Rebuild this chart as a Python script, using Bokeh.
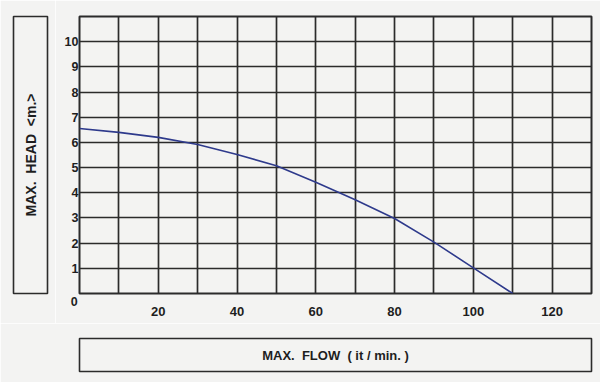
import math
from bokeh.plotting import figure
from bokeh.layouts import row, column
from bokeh.models import FixedTicker, Range1d, ColumnDataSource, LinearAxis
from bokeh.core.properties import value
from bokeh.embed import file_html
from bokeh.resources import INLINE

# ---- data ----
flow = [0, 10, 20, 30, 40, 50, 60, 70, 80, 90, 100, 110]
head = [6.55, 6.40, 6.20, 5.92, 5.52, 5.07, 4.42, 3.72, 2.98, 2.04, 1.02, 0.0]
x_tick_labels = [20, 40, 60, 80, 100, 120]
y_tick_labels = [1, 2, 3, 4, 5, 6, 7, 8, 9, 10]
origin_tick = [0]
x_grid = list(range(0, 131, 10))
y_grid = list(range(0, 12))
NB = "\u00a0"
y_title = f"MAX.{NB} HEAD{NB} <m.>"
x_title = f"MAX.{NB} FLOW{NB} ( it / min. )"

BG = "#f3f3f2"
INK = "#2b2b2b"
TXT = "#1e1e1e"
CURVE = "#2e3a8c"
FONT = "Liberation Sans"

FW, FH = 512, 277


def style_axis(ax, size):
    ax.axis_line_color = None
    ax.major_tick_line_color = None
    ax.minor_tick_line_color = None
    ax.major_tick_out = 0
    ax.major_tick_in = 0
    ax.major_label_text_font = FONT
    ax.major_label_text_font_style = "bold"
    ax.major_label_text_color = TXT
    ax.major_label_text_font_size = size


# ---- main chart ----
p = figure(x_range=Range1d(x_grid[0], x_grid[-1]), y_range=Range1d(y_grid[0], y_grid[-1]),
           frame_width=FW, frame_height=FH,
           min_border_left=24, min_border_right=9, min_border_top=16, min_border_bottom=30,
           output_backend="svg", toolbar_location=None,
           background_fill_color=BG, border_fill_color=BG,
           outline_line_color=INK, outline_line_width=2)

# inner x axis: only the origin "0", shifted left of the corner
ax0 = p.xaxis[0]
style_axis(ax0, "12.5px")
ax0.ticker = FixedTicker(ticks=origin_tick)
ax0.major_label_overrides = {origin_tick[0]: str(origin_tick[0]) + NB * 3}
ax0.major_label_standoff = 1

# outer x axis: 20 ... 120
ax1 = LinearAxis(ticker=FixedTicker(ticks=x_tick_labels))
style_axis(ax1, "13px")
ax1.major_label_standoff = -5
p.add_layout(ax1, "below")

ay = p.yaxis[0]
style_axis(ay, "12.5px")
ay.ticker = FixedTicker(ticks=y_tick_labels)
ay.major_label_standoff = 1

p.xgrid.ticker = FixedTicker(ticks=x_grid)
p.ygrid.ticker = FixedTicker(ticks=y_grid)
for g in (p.xgrid[0], p.ygrid[0]):
    g.grid_line_color = INK
    g.grid_line_width = 1.7
    g.grid_line_alpha = 1.0

src = ColumnDataSource(dict(x=flow, y=head))
p.line("x", "y", source=src, line_color=CURVE, line_width=1.6)

# ---- y title box ----
yl = figure(x_range=Range1d(0, 1), y_range=Range1d(0, 1),
            frame_width=34, frame_height=FH,
            min_border_left=13, min_border_right=8, min_border_top=16, min_border_bottom=30,
            x_axis_location=None, y_axis_location=None,
            output_backend="svg", toolbar_location=None,
            background_fill_color=BG, border_fill_color=BG,
            outline_line_color=INK, outline_line_width=1.6)
yl.grid.visible = False
yl.text(x=[0.5], y=[0.5], text=[y_title], angle=math.pi / 2,
        text_align="center", text_baseline="middle",
        text_font=value(FONT), text_font_style="bold", text_font_size="14px",
        text_color=TXT)

# ---- x title box ----
xl = figure(x_range=Range1d(0, 1), y_range=Range1d(0, 1),
            frame_width=FW, frame_height=33,
            min_border_left=79, min_border_right=9, min_border_top=15, min_border_bottom=11,
            x_axis_location=None, y_axis_location=None,
            output_backend="svg", toolbar_location=None,
            background_fill_color=BG, border_fill_color=BG,
            outline_line_color=INK, outline_line_width=1.6)
xl.grid.visible = False
xl.text(x=[0.5], y=[0.5], text=[x_title],
        text_align="center", text_baseline="middle",
        text_font=value(FONT), text_font_style="bold", text_font_size="13px",
        text_color=TXT)

layout = column(row(yl, p), xl)
open("out.html", "w").write(file_html(layout, INLINE))
